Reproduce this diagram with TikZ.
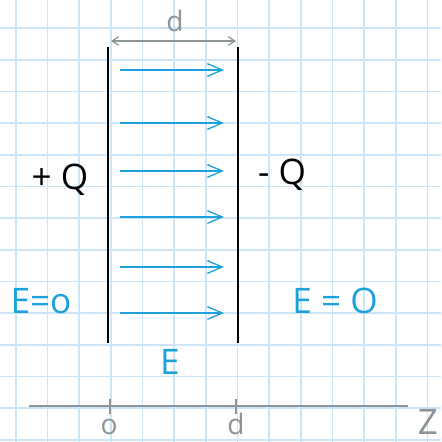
\documentclass[tikz,border=0pt]{standalone}
\usepackage{fontspec}
\setmainfont{Open Sans}
\usetikzlibrary{arrows.meta,positioning}
\definecolor{gridblue}{HTML}{CCE6F8}
\definecolor{fieldblue}{HTML}{1BA1DB}
\definecolor{axisgray}{HTML}{8C9497}
\begin{document}
\begin{tikzpicture}[
    x=0.03cm, y=-0.03cm,
    gridline/.style={draw=gridblue, line width=1.4pt},
    plate/.style={draw=black, line width=1.1pt},
    field/.style={draw=fieldblue, line width=1.1pt, -{Straight Barb[length=4.5mm,width=3.8mm]}},
    dim/.style={draw=axisgray, line width=1pt, {Straight Barb[length=2mm,width=2.6mm]}-{Straight Barb[length=2mm,width=2.6mm]}},
    axis/.style={draw=axisgray, line width=1.2pt},
    big/.style={font=\fontsize{30}{34}\selectfont, inner sep=0pt},
    small/.style={font=\fontsize{24}{28}\selectfont, inner sep=0pt}
]
\useasboundingbox (0,0) rectangle (441,442);
\fill[white] (0,0) rectangle (441,442);

% graph paper
\foreach \k in {0,...,13} {
  \draw[gridline] ({16+\k*31.65},0) -- ({16+\k*31.65},442);
  \draw[gridline] (0,{28.3+\k*31.65}) -- (441,{28.3+\k*31.65});
}

% plates
\coordinate (lt) at (108,47);
\coordinate (lb) at (108,343);
\coordinate (rt) at (238,47);
\coordinate (rb) at (238,343);
\draw[plate] (lt) -- (lb);
\draw[plate] (rt) -- (rb);

% field lines
\foreach \i/\y in {1/70, 2/123, 3/171, 4/217, 5/267, 6/313} {
  \coordinate (a\i) at (120,\y);
  \coordinate (b\i) at (224,\y);
  \draw[field] (a\i) -- (b\i);
}

% gap
\coordinate (dl) at (111,41);
\coordinate (dr) at (236,41);
\draw[dim] (dl) -- (dr);
\node[small, text=axisgray] (gap) at (175,21) {d};

\node[big] (plus) at (60,180) {+ Q};
\node[big] (minus) at (282,175) {- Q};
\node[big, text=fieldblue] (eleft) at (41,301) {E=o};
\node[big, text=fieldblue] (eright) at (335,301) {E = O};
\node[big, text=fieldblue] (efield) at (170,362) {E};

% z axis
\coordinate (zl) at (29,406);
\coordinate (zr) at (408,406);
\draw[axis] (zl) -- (zr);
\draw[axis] (110,399) -- (110,414);
\draw[axis] (236,399) -- (236,414);
\node[small, text=axisgray] (zero) at (109,427) {o};
\node[small, text=axisgray] (dd) at (236,424) {d};
\node[big, text=axisgray] (zz) at (428,422) {Z};
\end{tikzpicture}
\end{document}
